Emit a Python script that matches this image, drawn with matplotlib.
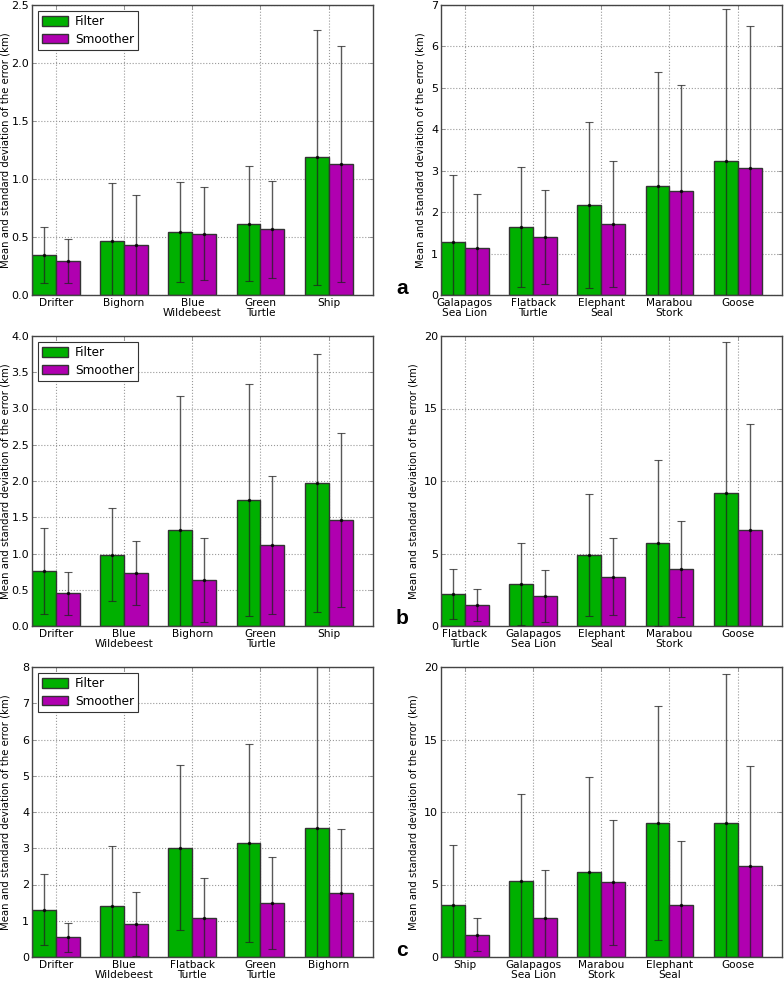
import matplotlib
matplotlib.use("Agg")
import matplotlib.pyplot as plt
import numpy as np

plt.rcParams['font.family'] = ['DejaVu Sans']

# ---- data ----
cats_1 = ["Drifter", "Bighorn", "Blue\nWildebeest", "Green\nTurtle", "Ship"]
filt_1 = [0.345, 0.468, 0.545, 0.614, 1.188]
filt_sd_1 = [0.24, 0.50, 0.43, 0.495, 1.10]
smoo_1 = [0.296, 0.428, 0.528, 0.565, 1.128]
smoo_sd_1 = [0.19, 0.433, 0.40, 0.42, 1.016]

cats_a = ["Galapagos\nSea Lion", "Flatback\nTurtle", "Elephant\nSeal", "Marabou\nStork", "Goose"]
filt_a = [1.286, 1.64, 2.18, 2.62, 3.23]
filt_sd_a = [1.62, 1.44, 2.0, 2.76, 3.67]
smoo_a = [1.14, 1.41, 1.72, 2.516, 3.06]
smoo_sd_a = [1.31, 1.135, 1.52, 2.56, 3.43]

cats_2 = ["Drifter", "Blue\nWildebeest", "Bighorn", "Green\nTurtle", "Ship"]
filt_2 = [0.759, 0.984, 1.329, 1.738, 1.972]
filt_sd_2 = [0.59, 0.645, 1.84, 1.60, 1.78]
smoo_2 = [0.45, 0.726, 0.63, 1.117, 1.457]
smoo_sd_2 = [0.30, 0.443, 0.58, 0.947, 1.20]

cats_b = ["Flatback\nTurtle", "Galapagos\nSea Lion", "Elephant\nSeal", "Marabou\nStork", "Goose"]
filt_b = [2.21, 2.90, 4.92, 5.75, 9.20]
filt_sd_b = [1.75, 2.80, 4.21, 5.72, 10.4]
smoo_b = [1.45, 2.07, 3.40, 3.93, 6.60]
smoo_sd_b = [1.09, 1.79, 2.67, 3.32, 7.30]

cats_3 = ["Drifter", "Blue\nWildebeest", "Flatback\nTurtle", "Green\nTurtle", "Bighorn"]
filt_3 = [1.306, 1.416, 3.016, 3.136, 3.56]
filt_sd_3 = [0.985, 1.65, 2.27, 2.735, 5.0]
smoo_3 = [0.543, 0.92, 1.085, 1.49, 1.756]
smoo_sd_3 = [0.405, 0.88, 1.10, 1.28, 1.78]

cats_c = ["Ship", "Galapagos\nSea Lion", "Marabou\nStork", "Elephant\nSeal", "Goose"]
filt_c = [3.62, 5.21, 5.85, 9.24, 9.26]
filt_sd_c = [4.08, 6.0, 6.55, 8.04, 10.25]
smoo_c = [1.54, 2.70, 5.14, 3.59, 6.31]
smoo_sd_c = [1.12, 3.27, 4.29, 4.42, 6.84]

ylims = [2.5, 7, 4, 20, 8, 20]
yticks = [np.arange(0, 2.51, 0.5), np.arange(0, 7.1, 1), np.arange(0, 4.01, 0.5),
          np.arange(0, 21, 5), np.arange(0, 8.1, 1), np.arange(0, 21, 5)]
yfmt = ['%.1f', '%d', '%.1f', '%d', '%d', '%d']

panels = [
    (cats_1, filt_1, filt_sd_1, smoo_1, smoo_sd_1),
    (cats_a, filt_a, filt_sd_a, smoo_a, smoo_sd_a),
    (cats_2, filt_2, filt_sd_2, smoo_2, smoo_sd_2),
    (cats_b, filt_b, filt_sd_b, smoo_b, smoo_sd_b),
    (cats_3, filt_3, filt_sd_3, smoo_3, smoo_sd_3),
    (cats_c, filt_c, filt_sd_c, smoo_c, smoo_sd_c),
]
letters = [None, 'a', None, 'b', None, 'c']

W, H = 784, 981
fig = plt.figure(figsize=(W / 100, H / 100), dpi=100)

lefts = [32, 441]
tops = [5, 336, 667]
aw, ah = 341, 290

GREEN = '#00b000'
MAG = '#b000b0'
bw = 0.35

for k, (cats, f, fs, s, ss) in enumerate(panels):
    row, col = divmod(k, 2)
    l = lefts[col]
    t = tops[row]
    ax = fig.add_axes([l / W, 1 - (t + ah) / H, aw / W, ah / H])
    x = np.arange(len(cats))
    ax.bar(x, f, bw, align='edge', color=GREEN, edgecolor='#333333', linewidth=1.0,
           label='Filter', zorder=2)
    ax.bar(x + bw, s, bw, align='edge', color=MAG, edgecolor='#333333', linewidth=1.0,
           label='Smoother', zorder=2)
    ax.errorbar(x + bw / 2, f, yerr=fs, fmt='.', color='black', ecolor='#222222',
                elinewidth=1.0, capsize=3, capthick=0.8, markersize=3, alpha=0.75, zorder=3)
    ax.errorbar(x + 1.5 * bw, s, yerr=ss, fmt='.', color='black', ecolor='#222222',
                elinewidth=1.0, capsize=3, capthick=0.8, markersize=3, alpha=0.75, zorder=3)
    ax.set_xlim(0, len(cats))
    ax.set_ylim(0, ylims[k])
    ax.set_xticks(x + bw)
    ax.set_xticklabels(cats, fontsize=7.6, linespacing=1.0)
    ax.set_yticks(yticks[k])
    ax.set_yticklabels([yfmt[k] % v for v in yticks[k]], fontsize=8)
    ax.tick_params(direction='in', top=True, right=True, length=3, width=0.6, pad=2,
                   color='#888888')
    ax.grid(True, linestyle=':', color='#999999', linewidth=0.8, zorder=0)
    ax.set_axisbelow(True)
    for sp in ax.spines.values():
        sp.set_color('#444444')
        sp.set_linewidth(1.0)
    ax.set_ylabel('Mean and standard deviation of the error (km)', fontsize=7.3, labelpad=4)
    if col == 0:
        ax.yaxis.set_label_coords(-0.063, 0.5)
        leg = ax.legend(loc='upper left', fontsize=8.7, handlelength=2.1, handleheight=0.8,
                        borderpad=0.35, labelspacing=0.4, handletextpad=0.6,
                        borderaxespad=0.0, fancybox=False, framealpha=1,
                        edgecolor='#333333', bbox_to_anchor=(6 / aw, 1 - 6 / ah))
        leg.get_frame().set_linewidth(0.8)
    if letters[k]:
        fig.text(396 / W, 1 - (t + ah - 7) / H, letters[k], fontsize=15, fontweight='bold',
                 family=['Liberation Sans', 'DejaVu Sans'], ha='left', va='center')

fig.savefig('out.png', dpi=100)
